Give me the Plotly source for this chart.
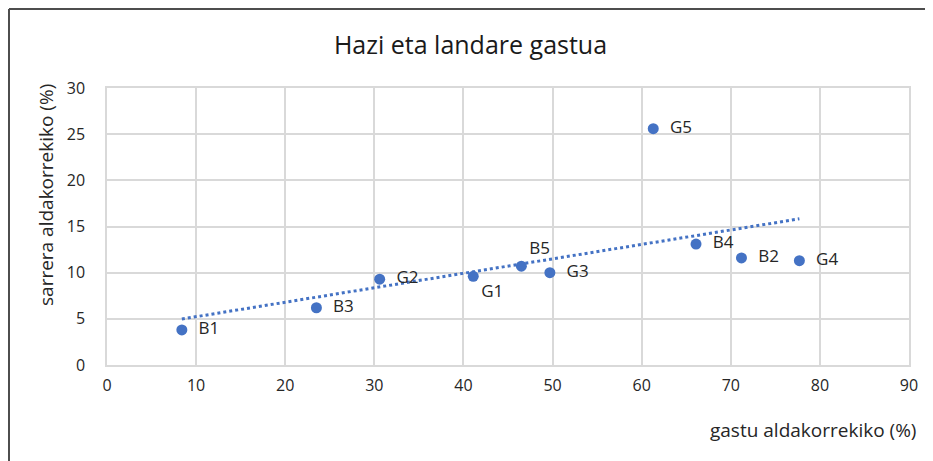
import numpy as np
import plotly.graph_objects as go

labels = ["B1", "B3", "G2", "G1", "B5", "G3", "G5", "B4", "B2", "G4"]
gastu = [8.4, 23.5, 30.6, 41.1, 46.5, 49.7, 61.3, 66.1, 71.2, 77.7]
sarrera = [3.8, 6.2, 9.3, 9.6, 10.7, 10.0, 25.6, 13.1, 11.6, 11.3]
x_ticks = list(range(0, 91, 10))
y_ticks = list(range(0, 31, 5))

BLUE = "#4472C4"
GRID = "#d9d9d9"
TEXT = "#262626"
FONT = "Open Sans, Arial, sans-serif"

label_pos = ["middle right"] * len(labels)
label_pos[labels.index("G1")] = "bottom right"
label_pos[labels.index("B5")] = "top right"
label_text = [("  " + t) if p == "middle right" else t for t, p in zip(labels, label_pos)]

# linear trendline (least squares), drawn between min and max x
slope, intercept = np.polyfit(gastu, sarrera, 1)
trend_x = [min(gastu), max(gastu)]
trend_y = [slope * v + intercept for v in trend_x]

fig = go.Figure()
fig.add_trace(
    go.Scatter(
        x=trend_x,
        y=trend_y,
        mode="lines",
        line=dict(color=BLUE, width=3, dash="dot"),
        hoverinfo="skip",
    )
)
fig.add_trace(
    go.Scatter(
        x=gastu,
        y=sarrera,
        mode="markers+text",
        text=label_text,
        textposition=label_pos,
        textfont=dict(family=FONT, size=17, color=TEXT),
        marker=dict(color=BLUE, size=11),
    )
)

# page body has an 8px margin, so the figure is sized 8px smaller
fig.update_layout(
    width=925,
    height=453,
    margin=dict(l=99, r=24, t=80, b=96),
    paper_bgcolor="white",
    plot_bgcolor="white",
    showlegend=False,
    font=dict(family=FONT, color=TEXT),
    title=dict(
        text="Hazi eta landare gastua",
        x=0.5,
        xanchor="center",
        y=0.918,
        yanchor="middle",
        font=dict(family=FONT, size=25, color="#1a1a1a"),
    ),
)
fig.update_xaxes(
    range=[0, 90],
    tickvals=x_ticks,
    showgrid=True,
    gridcolor=GRID,
    gridwidth=1.5,
    zeroline=False,
    showline=True,
    linecolor=GRID,
    linewidth=1.5,
    mirror=True,
    ticks="",
    ticklabelstandoff=5,
    tickfont=dict(family=FONT, size=16, color=TEXT),
)
fig.update_yaxes(
    range=[0, 30],
    tickvals=y_ticks,
    showgrid=True,
    gridcolor=GRID,
    gridwidth=1.5,
    zeroline=False,
    showline=True,
    linecolor=GRID,
    linewidth=1.5,
    mirror=True,
    ticks="",
    ticklabelstandoff=17,
    tickfont=dict(family=FONT, size=16, color=TEXT),
)

fig.add_annotation(
    text="gastu aldakorrekiko (%)",
    xref="paper", yref="paper",
    x=1.011, y=-0.235,
    xanchor="right", yanchor="middle",
    showarrow=False,
    font=dict(family=FONT, size=19, color=TEXT),
)
fig.add_annotation(
    text="sarrera aldakorrekiko (%)",
    xref="paper", yref="paper",
    x=-0.076, y=0.614,
    xanchor="center", yanchor="middle",
    textangle=-90,
    showarrow=False,
    font=dict(family=FONT, size=19, color=TEXT),
)

# outer chart frame (left and top edges visible in the crop)
fig.add_shape(type="line", xref="paper", yref="paper",
              x0=-0.1222, x1=-0.1222, y0=-0.5, y1=1.285,
              line=dict(color="#4d4d4d", width=2))
fig.add_shape(type="line", xref="paper", yref="paper",
              x0=-0.1222, x1=1.2, y0=1.285, y1=1.285,
              line=dict(color="#4d4d4d", width=2))

fig.write_html("out.html")
